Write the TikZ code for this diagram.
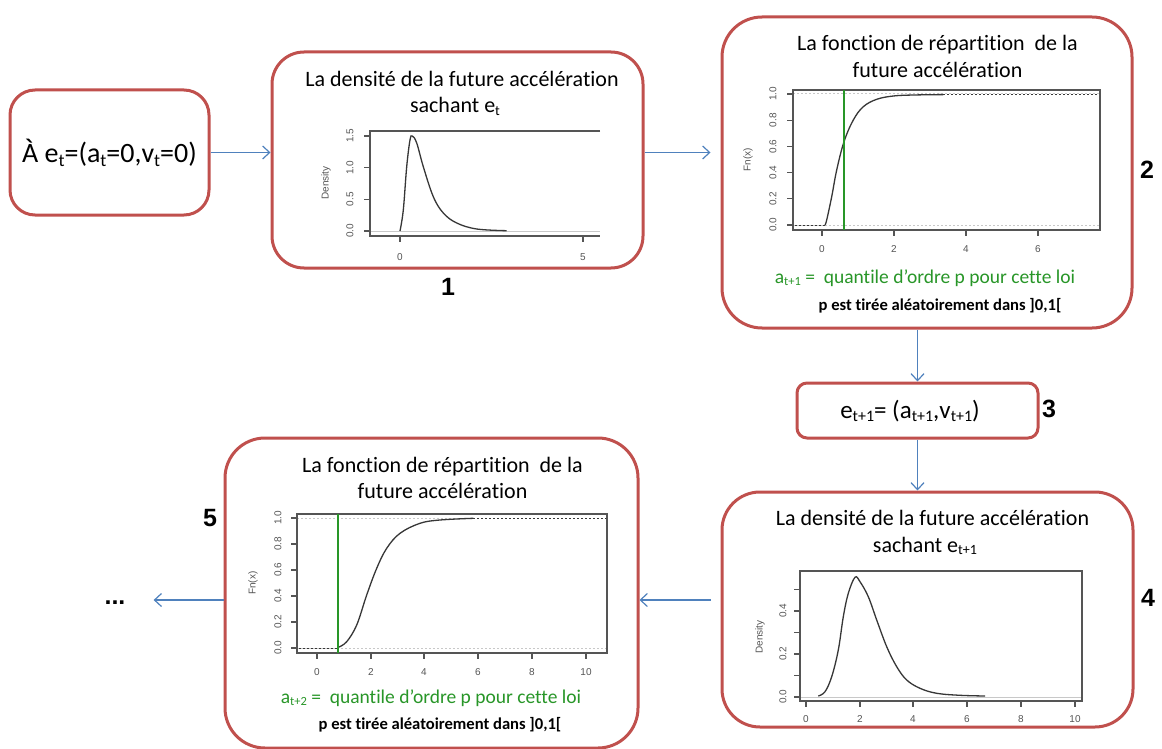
\documentclass[tikz,border=0pt]{standalone}
\usepackage{fontspec}
\usepackage{graphicx}
\setmainfont{Carlito}[Ligatures=NoCommon]
\newfontfamily\arialf{Liberation Sans}
\usetikzlibrary{arrows.meta}
\definecolor{boxred}{RGB}{192,80,77}
\definecolor{arrblue}{RGB}{79,129,189}
\definecolor{plotgray}{RGB}{85,85,85}
\definecolor{curvegray}{RGB}{55,55,55}
\definecolor{ltgray}{RGB}{200,200,200}
\definecolor{qgreen}{RGB}{40,150,40}
\newcommand\sbt[1]{\raisebox{-0.12em}{\scalebox{0.64}{#1}}}
\tikzset{
  rbox/.style={draw=boxred, line width=3pt, rounded corners=#1, fill=white, inner sep=0pt},
  rbox/.default=30pt,
  conn/.style={draw=arrblue, line width=1.2pt, -{Straight Barb[length=7pt,width=13pt]}},
  ax/.style={draw=plotgray, line width=1.2pt},
  curve/.style={draw=curvegray, line width=1.3pt},
  lab/.style={font=\arialf\fontsize{10}{11}\selectfont, text=plotgray, inner sep=0pt},
  num/.style={font=\arialf\bfseries\fontsize{25}{28}\selectfont, inner sep=0pt},
  ttl/.style={font=\fontsize{22}{26}\selectfont, inner sep=0pt, anchor=base},
  grn/.style={font=\fontsize{19.5}{22}\selectfont, text=qgreen, inner sep=0pt, anchor=base},
  blk/.style={font=\bfseries\fontsize{16.6}{19}\selectfont, inner sep=0pt, anchor=base},
  dsh/.style={draw=ltgray, line width=1pt, dash pattern=on 2pt off 2pt},
  dshk/.style={draw=curvegray, line width=1pt, dash pattern=on 2pt off 2pt},
  gline/.style={draw=qgreen, line width=2.2pt}
}
\begin{document}
\begin{tikzpicture}[x=1pt,y=-1pt]
\useasboundingbox (0,0) rectangle (1162,749);

% boxes
\node[rbox=25pt, minimum width=199pt, minimum height=125pt] (b0) at (109.5,152.5) {};
\node[rbox=32pt, minimum width=371pt, minimum height=216pt] (b1) at (457.5,160) {};
\node[rbox=40pt, minimum width=410pt, minimum height=311pt] (b2) at (927,172.5) {};
\node[rbox=10pt, minimum width=241pt, minimum height=55pt] (b3) at (917.5,410.5) {};
\node[rbox=38pt, minimum width=411pt, minimum height=235pt] (b4) at (927.5,609.5) {};
\node[rbox=40pt, minimum width=413pt, minimum height=310pt] (b5) at (431.5,593) {};

% box 0 text
\node[font=\fontsize{28}{32}\selectfont, inner sep=0pt, anchor=base] (t0) at (109.5,163)
  {À e\sbt{t}=(a\sbt{t}=0,v\sbt{t}=0)};

% box 1
\node[ttl] (t1a) at (462,86.7) {La densité de la future accélération};
\node[ttl] (t1b) at (455,113) {sachant e\sbt{t}};
\draw[draw=ltgray, line width=1pt] (370,231) -- (600,231);
\draw[ax] (600,131) -- (370,131) -- (370,236) -- (600,236);
\foreach \v/\yy in {0.0/231,0.5/199.3,1.0/167.7,1.5/136} {
  \draw[ax] (370,\yy) -- (364,\yy);
  \node[lab, rotate=90] at (350,\yy) {\v};
}
\node[lab, rotate=90] at (326,183) {Density};
\foreach \v/\xx in {0/400,5/583} {
  \draw[ax] (\xx,236) -- (\xx,242);
  \node[lab] at (\xx,257) {\v};
}
\draw[curve] plot[smooth, tension=0.6] coordinates {(400,231) (403.3,210) (406.7,166.7) (410,140) (412.3,136) (416.7,143) (423.3,166.7) (433.3,196.7) (443.3,213) (456.7,223) (476.7,229) (506.7,230.7)};
\node[num] (n1) at (448,287) {1};

% box 2
\node[ttl] (t2a) at (937.5,50.7) {La fonction de répartition~ de la};
\node[ttl] (t2b) at (937.5,78) {future accélération};
\draw[dsh] (793,94) -- (1100,94);
\draw[dsh] (793,225) -- (1100,225);
\draw[dshk] (795,225) -- (825,225);
\draw[dshk] (943,94.5) -- (1100,94.5);
\draw[ax] (793,90) rectangle (1100,230);
\foreach \v/\yy in {0.0/225,0.2/198.8,0.4/172.6,0.6/146.4,0.8/120.2,1.0/94} {
  \draw[ax] (793,\yy) -- (787,\yy);
  \node[lab, rotate=90] at (773,\yy) {\v};
}
\node[lab, rotate=90] at (748,160) {Fn(x)};
\foreach \v/\xx in {0/822,2/894,4/966,6/1038} {
  \draw[ax] (\xx,230) -- (\xx,236);
  \node[lab] at (\xx,249) {\v};
}
\draw[curve] plot[smooth, tension=0.6] coordinates {(825,225) (826.7,220) (831.7,196.7) (836.7,170) (844,141.7) (853.3,120) (863.3,106.7) (876.7,99.3) (893.3,96) (913.3,95) (943.3,94.6)};
\draw[gline] (844,90) -- (844,230);
\node[grn] (g2) at (925,283) {a\sbt{t+1} =~ quantile d’ordre p pour cette loi};
\node[blk] (k2) at (940,310) {p est tirée aléatoirement dans ]0,1[};
\node[num] (n2) at (1147,170) {2};

% box 3
\node[font=\fontsize{25}{28}\selectfont, inner sep=0pt, anchor=base] (t3) at (910,418)
  {e\sbt{t+1}= (a\sbt{t+1},v\sbt{t+1})};
\node[num] (n3) at (1049,409) {3};

% box 4
\node[ttl] (t4a) at (932.5,525) {La densité de la future accélération};
\node[ttl] (t4b) at (925,552) {sachant e\sbt{t+1}};
\draw[draw=ltgray, line width=1pt] (800,697) -- (1082,697);
\draw[ax] (800,571) rectangle (1082,701);
\foreach \yy in {697,675.5,654,632.5,611,589.5} {
  \draw[ax] (800,\yy) -- (794,\yy);
}
\foreach \v/\yy in {0.0/697,0.2/654,0.4/611} {
  \node[lab, rotate=90] at (783,\yy) {\v};
}
\node[lab, rotate=90] at (760,637) {Density};
\foreach \v/\xx in {0/806,2/860,4/913,6/967,8/1021,10/1075} {
  \draw[ax] (\xx,701) -- (\xx,707);
  \node[lab] at (\xx,719) {\v};
}
\draw[curve] plot[smooth, tension=0.6] coordinates {(818.3,696) (825,691.7) (831.7,676.7) (838.3,650) (843.3,616.7) (848.3,593.3) (855,577.3) (860,581.7) (868.3,596.7) (876.7,620) (886.7,646.7) (896.7,666.7) (906.7,680) (920,688.3) (936.7,693.3) (960,695.3) (985,696)};
\node[num] (n4) at (1148,598) {4};

% box 5
\node[ttl] (t5a) at (442.5,472) {La fonction de répartition~ de la};
\node[ttl] (t5b) at (442.5,498) {future accélération};
\draw[dsh] (297,518) -- (607,518);
\draw[dsh] (297,648) -- (607,648);
\draw[dshk] (299,648) -- (338,648);
\draw[dshk] (473,518.3) -- (607,518.3);
\draw[ax] (297,514) rectangle (607,653);
\foreach \v/\yy in {0.0/648,0.2/622,0.4/596,0.6/570,0.8/544,1.0/518} {
  \draw[ax] (297,\yy) -- (291,\yy);
  \node[lab, rotate=90] at (278,\yy) {\v};
}
\node[lab, rotate=90] at (253,583) {Fn(x)};
\foreach \v/\xx in {0/317,2/371,4/424,6/478,8/532,10/586} {
  \draw[ax] (\xx,653) -- (\xx,659);
  \node[lab] at (\xx,672) {\v};
}
\draw[curve] plot[smooth, tension=0.6] coordinates {(338.3,647.3) (346.7,641.7) (356.7,625) (366.7,595) (376.7,568.3) (386.7,548.3) (400,533.3) (420,523.3) (440,520) (473.3,518.3)};
\draw[gline] (338,514) -- (338,653);
\node[grn] (g5) at (431,703) {a\sbt{t+2} =~ quantile d’ordre p pour cette loi};
\node[blk] (k5) at (440,729) {p est tirée aléatoirement dans ]0,1[};
\node[num] (n5) at (210,518) {5};

% dots
\node[num, anchor=base] (dots) at (115,604) {...};
\coordinate (ya) at (0,600);

% connectors
\draw[conn] (b0.east) -- (b0.east -| b1.west);
\draw[conn] (b1.east |- b0.east) -- ([xshift=-10pt]b2.west |- b0.east);
\draw[conn] (b2.south -| b3.north) -- (b3.north);
\draw[conn] (b3.south) -- (b3.south |- b4.north);
\draw[conn] ([xshift=-10pt]b4.west |- ya) -- (b5.east |- ya);
\draw[conn, shorten >=28pt] (b5.west |- ya) -- (dots.east |- ya);
\end{tikzpicture}
\end{document}
